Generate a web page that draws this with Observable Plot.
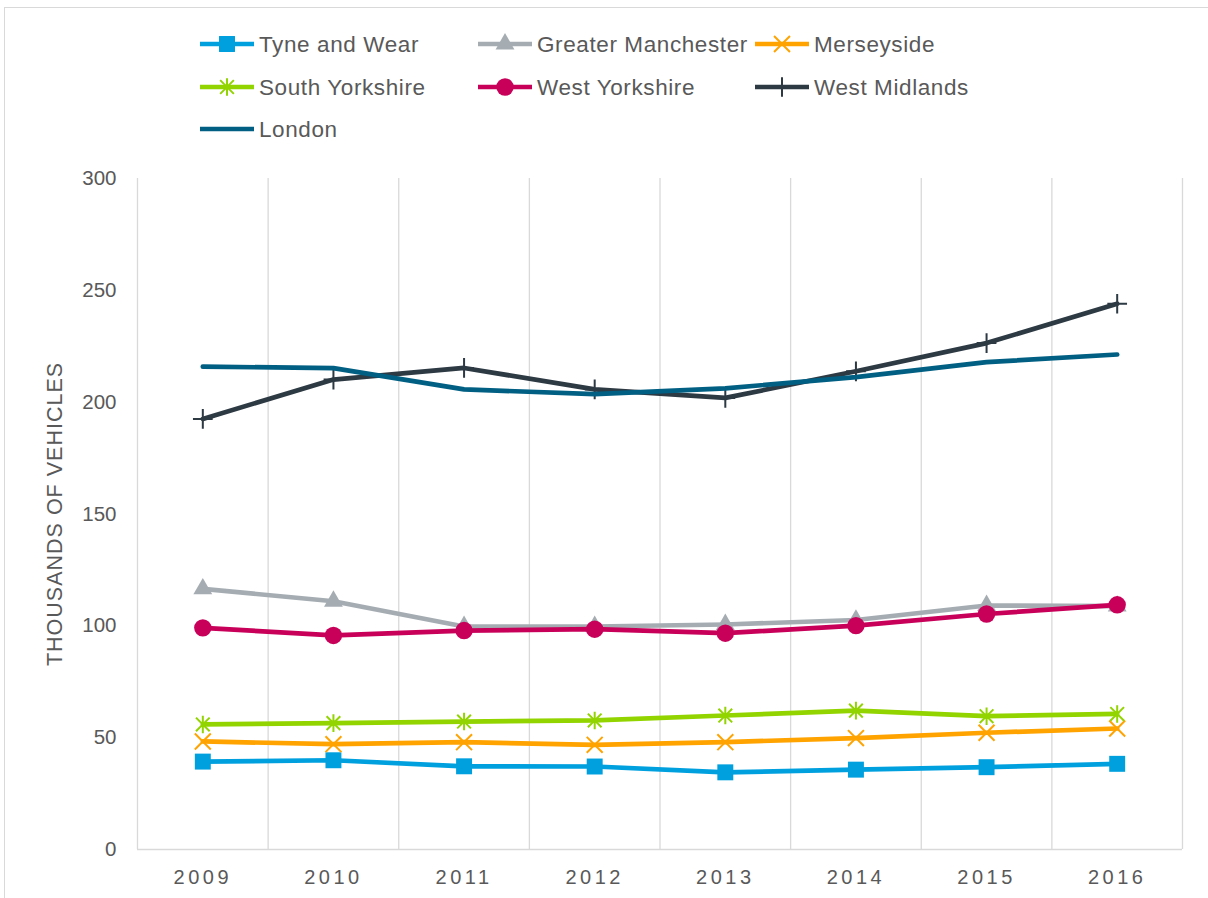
<!DOCTYPE html>
<html><head><meta charset="utf-8">
<script src="https://cdn.jsdelivr.net/npm/d3@7"></script>
<script src="https://cdn.jsdelivr.net/npm/@observablehq/plot@0.6"></script>
<style>
body{margin:0;background:#fff;font-family:"Liberation Sans",Arial,sans-serif;}
#wrap{position:relative;width:1208px;height:898px;overflow:hidden;background:#fff;}
#frame{position:absolute;left:4px;top:7px;width:1300px;height:1000px;border:1px solid #d9d9d9;box-sizing:border-box;}
#legend{position:absolute;left:0;top:0;}
#chart{position:absolute;left:0;top:150px;}
#chart svg g[aria-label="x-axis tick label"] text{letter-spacing:3.5px;}
#chart svg g[aria-label="y-axis label"] text{letter-spacing:1px;}
</style></head><body>
<div id="wrap"><div id="frame"></div><svg id="legend" width="1208" height="150"></svg><div id="chart"></div></div>
<script>
const years = [2009, 2010, 2011, 2012, 2013, 2014, 2015, 2016];
const yTicks = [0, 50, 100, 150, 200, 250, 300];
const tyneAndWear = [39.3, 39.9, 37.2, 37.1, 34.5, 35.7, 36.8, 38.3];
const greaterManchester = [116.5, 111.0, 99.7, 99.7, 100.6, 102.6, 109.1, 108.8];
const merseyside = [48.3, 47.1, 48.0, 46.8, 48.0, 49.8, 52.2, 54.1];
const southYorkshire = [55.9, 56.5, 57.2, 57.7, 59.9, 62.1, 59.6, 60.6];
const westYorkshire = [99.1, 95.7, 97.9, 98.5, 96.7, 100.1, 105.3, 109.4];
const westMidlands = [192.5, 210.1, 215.3, 205.7, 201.9, 213.8, 226.4, 244.0];
const london = [215.9, 215.2, 205.7, 203.6, 206.2, 211.2, 217.9, 221.3];

const seriesNames = ["Tyne and Wear", "Greater Manchester", "Merseyside", "South Yorkshire", "West Yorkshire", "West Midlands", "London"];
const seriesValues = [tyneAndWear, greaterManchester, merseyside, southYorkshire, westYorkshire, westMidlands, london];
const seriesColors = ["#00A0DF", "#A5ADB3", "#FFA300", "#92D400", "#C8005A", "#2D3943", "#005F83"];

// Excel-style star marker: an X with a vertical stroke
const starSymbol = {
  draw(context, size) {
    const r = Math.sqrt(size) * 0.55, d = r * 0.78;
    context.moveTo(0, -r); context.lineTo(0, r);
    context.moveTo(-d, -d); context.lineTo(d, d);
    context.moveTo(-d, d); context.lineTo(d, -d);
  }
};
const seriesSymbols = [d3.symbolSquare, d3.symbolTriangle, d3.symbolTimes, starSymbol, d3.symbolCircle, d3.symbolPlus, null];
const symbolFilled = [true, true, false, false, true, false, false];
const symbolR = [9, 7, 7.3, 9, 8.7, 6.4, 0];

const rows = [];
seriesNames.forEach((name, s) => seriesValues[s].forEach((v, i) => rows.push({series: name, year: years[i], value: v})));
const gridLines = years.map(y => y - 0.5).concat([years[years.length - 1] + 0.5]);

const marks = [
  Plot.ruleX(gridLines, {stroke: "#d9d9d9", strokeWidth: 1.3}),
  Plot.ruleY([0], {stroke: "#d9d9d9", strokeWidth: 1.3}),
  Plot.axisX({ticks: years, tickFormat: d => String(d), tickSize: 0, tickPadding: 20, label: null, fontSize: 20}),
  Plot.axisY({ticks: yTicks, tickSize: 0, tickPadding: 21, label: "THOUSANDS OF VEHICLES", labelAnchor: "center", labelOffset: 91, labelArrow: "none", fontSize: 20.5})
];
seriesNames.forEach((name, s) => {
  const d = rows.filter(r => r.series === name);
  marks.push(Plot.line(d, {x: "year", y: "value", stroke: seriesColors[s], strokeWidth: 4.7, strokeLinejoin: "round", strokeLinecap: "round"}));
  if (seriesSymbols[s]) {
    marks.push(Plot.dot(d, {x: "year", y: "value", symbol: seriesSymbols[s], r: symbolR[s],
      fill: symbolFilled[s] ? seriesColors[s] : "none", stroke: symbolFilled[s] ? "none" : seriesColors[s], strokeWidth: 2}));
  }
});

const chart = Plot.plot({
  width: 1208, height: 740,
  marginLeft: 137, marginRight: 26, marginTop: 28, marginBottom: 41,
  x: {type: "linear", domain: [2008.5, 2016.5]},
  y: {domain: [0, 300]},
  style: {fontFamily: '"Liberation Sans", Arial, sans-serif', fontSize: "20px", color: "#595959", background: "transparent", overflow: "visible"},
  marks
});
document.getElementById("chart").appendChild(chart);
d3.select(chart).select('g[aria-label="y-axis label"] text').style("font-size", "21.5px");

// Legend
const legend = d3.select("#legend");
const colX = [200, 478, 755];
const rowY = [44, 87, 129];
seriesNames.forEach((name, s) => {
  const x = colX[s % 3], y = rowY[Math.floor(s / 3)];
  const g = legend.append("g").attr("transform", `translate(${x},${y})`);
  g.append("line").attr("x1", 0).attr("x2", 54).attr("y1", 0).attr("y2", 0)
    .attr("stroke", seriesColors[s]).attr("stroke-width", 4.7);
  if (seriesSymbols[s]) {
    const r = symbolR[s];
    g.append("path").attr("transform", "translate(27,0)")
      .attr("d", d3.symbol(seriesSymbols[s], r * r * Math.PI)())
      .attr("fill", symbolFilled[s] ? seriesColors[s] : "none")
      .attr("stroke", symbolFilled[s] ? "none" : seriesColors[s]).attr("stroke-width", 2);
  }
  g.append("text").attr("x", 59).attr("y", 0).attr("dy", "0.35em")
    .attr("fill", "#595959").attr("font-size", "22.5px").attr("letter-spacing", "0.6px")
    .attr("font-family", '"Liberation Sans", Arial, sans-serif').text(name);
});
</script>
</body></html>
